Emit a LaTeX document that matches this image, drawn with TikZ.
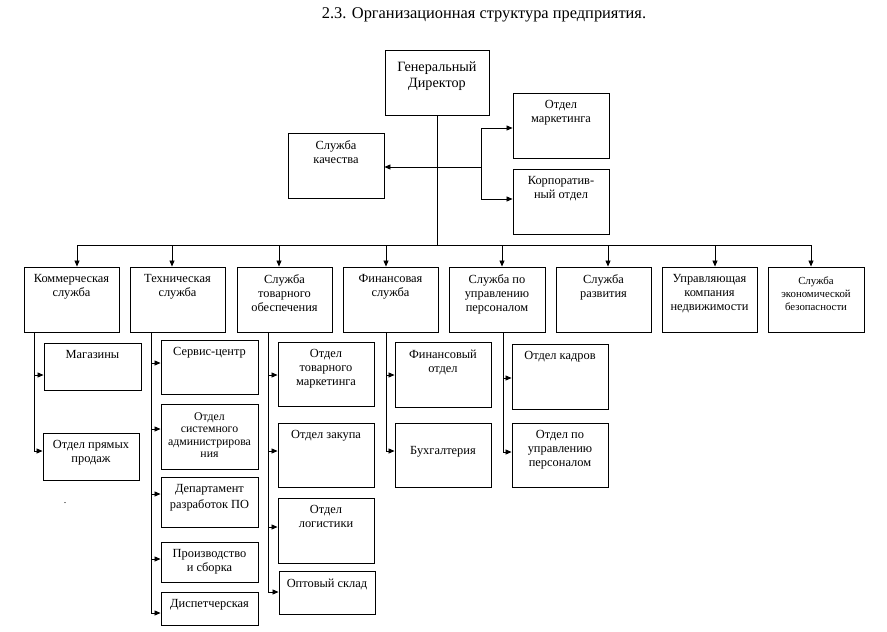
\documentclass[tikz,border=0pt]{standalone}
\usepackage{fontspec}
\setmainfont{Liberation Serif}
\usetikzlibrary{arrows.meta}
\newcommand\bx[7][]{\node[box, minimum width={#5-#3}, minimum height={#6-#4}, label={[lbl,#1]north:{#7}}] (#2) at ({(#3+#5)/2},{(#4+#6)/2}) {};}
\begin{document}
\begin{tikzpicture}[x=1pt,y=-1pt,
 box/.style={draw, line width=0.9pt, inner sep=0pt},
 lbl/.style={anchor=north, align=center, inner sep=0pt, font=\fontsize{12.4}{14}\selectfont, yshift=-8pt},
 small/.style={font=\fontsize{10.8}{13}\selectfont},
 ln/.style={line width=0.8pt},
 arr/.style={ln, -{Triangle[length=6pt,width=5pt]}},
]
\fill[white] (0,0) rectangle (887,632);
\useasboundingbox (0,0) rectangle (887,632);
\node[font=\fontsize{16.4}{20}\selectfont, anchor=base, inner sep=0pt] (title) at (484,18) {2.3. Организационная структура предприятия.};
% top
\bx[font=\fontsize{14.2}{16}\selectfont, yshift=-4pt]{gd}{385}{50}{489}{115}{Генеральный\\Директор}
\bx{kach}{288}{133}{384}{198}{Служба\\качества}
\bx{mkt}{513}{93}{609}{158}{Отдел\\маркетинга}
\bx{korp}{513}{169}{609}{234}{Корпоратив-\\ный отдел}
% second level
\bx{c1}{24}{267}{119}{332}{Коммерческая\\служба}
\bx{c2}{130}{267}{225}{332}{Техническая\\служба}
\bx{c3}{237}{267}{332}{332}{Служба\\товарного\\обеспечения}
\bx{c4}{343}{267}{438}{332}{Финансовая\\служба}
\bx{c5}{449}{267}{545}{332}{Служба по\\управлению\\персоналом}
\bx{c6}{556}{267}{651}{332}{Служба\\развития}
\bx{c7}{662}{267}{757}{332}{Управляющая\\компания\\недвижимости}
\bx[small, yshift=-2pt]{c8}{768}{267}{864}{332}{Служба\\экономической\\безопасности}
% third level
\bx{mag}{44}{343}{141}{390}{Магазины}
\bx{opp}{43}{433}{139}{480}{Отдел прямых\\продаж}
\bx{srv}{161}{340}{258}{394}{Сервис-центр}
\bx[font=\fontsize{11.8}{12.3}\selectfont, yshift=-1pt]{sys}{161}{404}{258}{469}{Отдел\\системного\\администрирова\\ния}
\bx[font=\fontsize{12.4}{15.5}\selectfont]{dep}{161}{477}{258}{527}{Департамент\\разработок ПО}
\bx{prd}{161}{542}{258}{582}{Производство\\и сборка}
\bx{dsp}{161}{592}{258}{625}{Диспетчерская}
\bx{tm}{278}{342}{374}{406}{Отдел\\товарного\\маркетинга}
\bx{zak}{278}{423}{374}{487}{Отдел закупа}
\bx{log}{278}{498}{374}{563}{Отдел\\логистики}
\bx{opt}{279}{571}{375}{614}{Оптовый склад}
\bx{fin}{395}{342}{491}{407}{Финансовый\\отдел}
\bx[yshift=-16pt]{buh}{395}{423}{491}{487}{Бухгалтерия}
\bx{kad}{512}{344}{608}{409}{Отдел кадров}
\bx{upr}{512}{423}{608}{487}{Отдел по\\управлению\\персоналом}
\node[inner sep=0pt, font=\fontsize{10}{12}\selectfont] (dot) at (65,503) {.};
% connectors top
\coordinate (bus) at (437,245);
\draw[ln] (gd.south) -- (bus);
\draw[ln] (77,245) -- (811,245);
\foreach \x/\n in {77/c1,172/c2,279/c3,386/c4,502/c5,608/c6,715/c7,811/c8}
  \draw[arr] (\x,245) -- (\n.north -| \x,0);
\draw[ln] (481,128) -- (481,199);
\draw[arr] (481,167) -- (kach.east |- 0,167);
\draw[arr] (481,128) -- (mkt.west |- 0,128);
\draw[arr] (481,199) -- (korp.west |- 0,199);
% columns
\draw[ln] (c1.south -| 34,0) -- (34,451);
\draw[arr] (34,375) -- (mag.west |- 0,375);
\draw[arr] (34,451) -- (opp.west |- 0,451);
\draw[ln] (c2.south -| 151,0) -- (151,613);
\foreach \y/\n in {363/srv,429/sys,494/dep,559/prd,613/dsp}
  \draw[arr] (151,\y) -- (\n.west |- 0,\y);
\draw[ln] (c3.south -| 268,0) -- (268,592);
\foreach \y/\n in {375/tm,451/zak,527/log,592/opt}
  \draw[arr] (268,\y) -- (\n.west |- 0,\y);
\draw[ln] (c4.south -| 386,0) -- (386,451);
\foreach \y/\n in {375/fin,451/buh}
  \draw[arr] (386,\y) -- (\n.west |- 0,\y);
\draw[ln] (c5.south -| 503,0) -- (503,452);
\foreach \y/\n in {378/kad,452/upr}
  \draw[arr] (503,\y) -- (\n.west |- 0,\y);
\end{tikzpicture}
\end{document}
